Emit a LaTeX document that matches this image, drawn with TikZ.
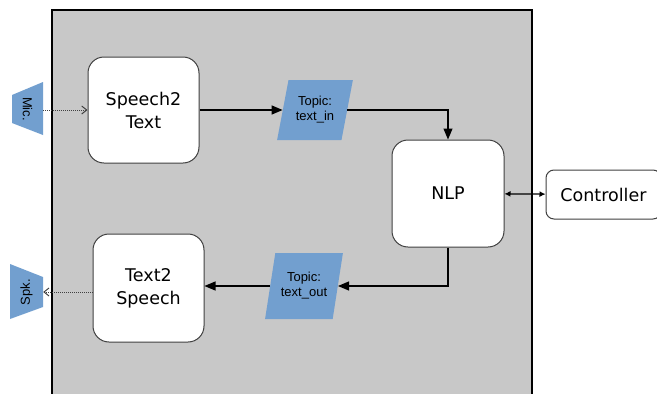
\documentclass[tikz,border=0pt]{standalone}
\usepackage{fontspec}
\setmainfont{DejaVu Sans}
\newfontfamily\labelfont{Liberation Sans}
\usepackage{tikz}
\usetikzlibrary{shapes.geometric,arrows.meta}
\usepackage{xcolor}
\definecolor{boxgray}{RGB}{200,200,200}
\definecolor{topicblue}{RGB}{114,159,207}
\tikzset{
  proc/.style={rectangle,draw=black!75,fill=white,rounded corners=16pt,line width=1pt,minimum width=111pt,minimum height=106pt,align=center,font=\fontsize{17.5}{23}\selectfont},
  topic/.style={trapezium,trapezium left angle=73,trapezium right angle=107,trapezium stretches=true,fill=topicblue,minimum width=76pt,minimum height=60pt,inner sep=0pt,align=center,font=\labelfont\fontsize{13}{15}\selectfont},
  dev/.style={rectangle,minimum width=31pt,minimum height=54pt,inner sep=0pt,font=\labelfont\fontsize{13}{15}\selectfont},
  edge/.style={-{Triangle[length=11pt,width=9pt]},line width=1.2pt},
  sig/.style={-{Straight Barb[length=5pt,width=8pt]},densely dotted,line width=1pt,draw=black!75}
}
\begin{document}
\begin{tikzpicture}[x=1pt,y=-1pt]
\useasboundingbox (0,0) rectangle (657,394);
\clip (0,0) rectangle (657,394);
\draw[fill=boxgray,line width=1.5pt] (52,10) rectangle (532,404);
% microphone and speaker
\fill[topicblue] (12,95) -- (43,82) -- (43,135) -- (12,123) -- cycle;
\fill[topicblue] (10,264) -- (43,277) -- (43,307) -- (10,319) -- cycle;
\node[dev] (mic) at (27.5,109) {\rotatebox{-90}{Mic.}};
\node[dev,minimum width=33pt] (spk) at (26.5,292) {\rotatebox{90}{Spk.}};
\node[proc] (s2t) at (143.5,110) {Speech2\\Text};
\node[proc,minimum height=108pt] (t2s) at (148.5,288) {Text2\\Speech};
\node[proc,minimum width=112pt,minimum height=107pt] (nlp) at (448,193.5) {NLP};
\node[proc,rounded corners=8pt,minimum width=115pt,minimum height=49pt] (ctrl) at (603.5,194.5) {Controller};
\node[topic] (tin) at (315,110) {Topic:\\text\_in};
\node[topic,minimum width=78pt,minimum height=66pt] (tout) at (304,286) {Topic:\\text\_out};
\draw[sig] (s2t.west -| mic.east) -- (s2t.west);
\draw[sig] (spk.east -| t2s.west) -- (spk.east);
\draw[edge] (s2t.east) -- (s2t.east -| tin.west);
\draw[edge] (tin.east) -| (nlp.north);
\draw[edge] (nlp.south) |- (tout.east);
\draw[edge] (tout.west) -- (tout.west -| t2s.east);
\draw[{Latex[length=6pt,width=6pt]}-{Latex[length=6pt,width=6pt]},line width=1.2pt] (nlp) -- (ctrl);
\end{tikzpicture}
\end{document}
